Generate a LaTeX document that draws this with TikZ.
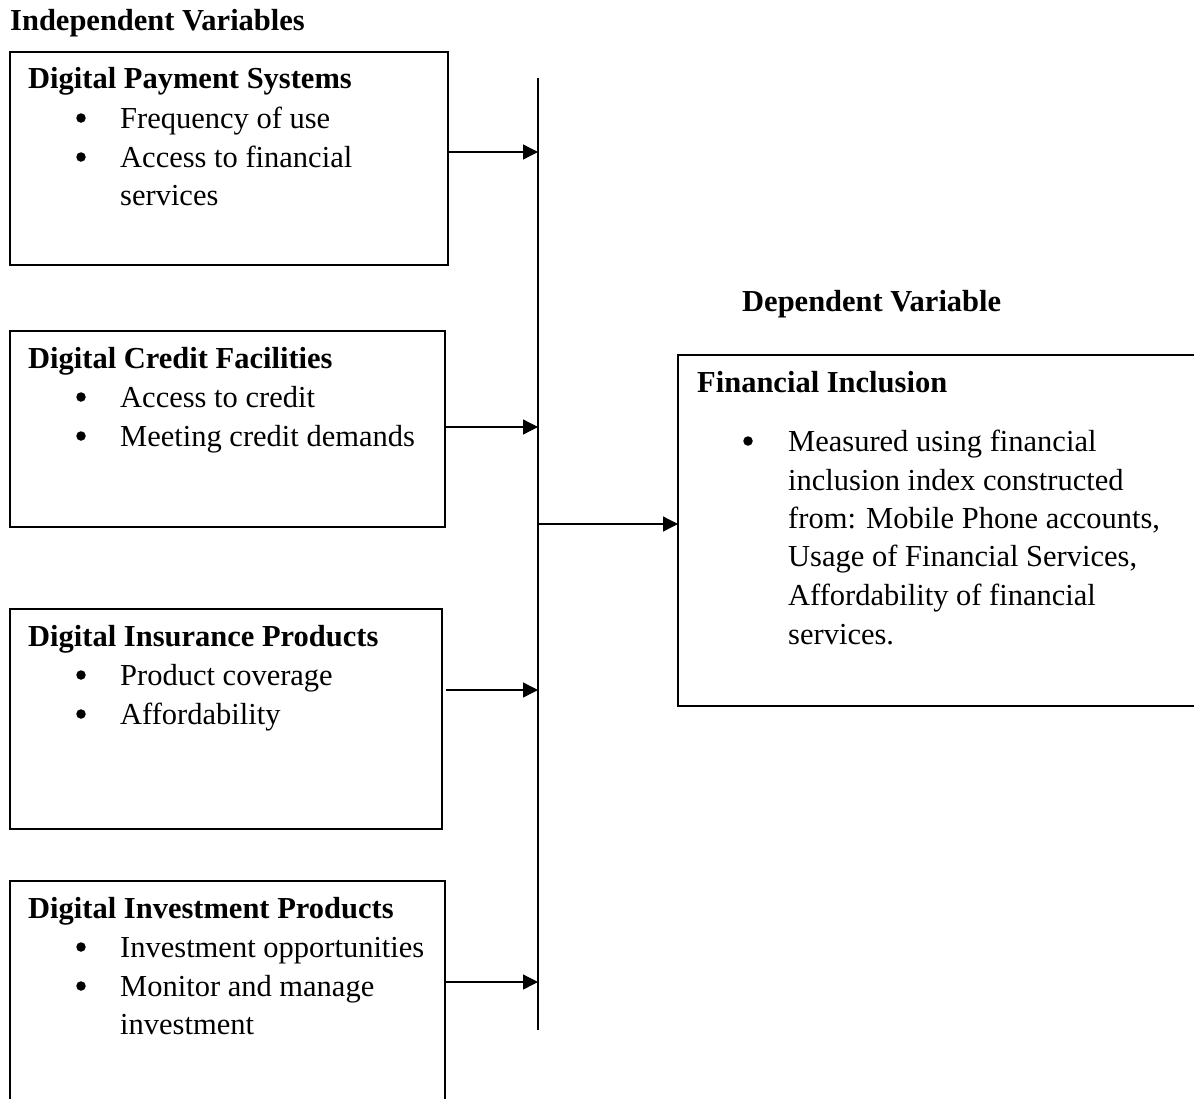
\documentclass[tikz,border=0pt]{standalone}
\usepackage{fontspec}
\setmainfont{Liberation Serif}
\usetikzlibrary{arrows.meta}
\begin{document}
\begin{tikzpicture}[x=1pt,y=-1pt,
  box/.style={draw, line width=1.3pt, anchor=north west, inner sep=0pt, outer sep=0pt},
  txt/.style={anchor=base west, inner sep=0pt, font=\fontsize{30.5}{39}\selectfont},
  head/.style={anchor=base west, inner sep=0pt, font=\fontsize{30.5}{39}\selectfont\bfseries},
  bul/.style={circle, fill=black, inner sep=0pt, minimum size=9.5pt},
  link/.style={line width=1.3pt},
  arr/.style={line width=1.3pt, -{Triangle[length=15pt,width=15pt]}}]
\useasboundingbox (0,0) rectangle (1194,1098);
\clip (0,0) rectangle (1194,1098);

% titles
\node[head] (tind) at (10,30) {Independent Variables};
\node[head] (tdep) at (742,311) {Dependent Variable};

% box 1
\node[box, minimum width=438pt, minimum height=213pt] (b1) at (10,52) {};
\node[head] (h1) at (28,88) {Digital Payment Systems};
\node[bul] (p1a) at (81,118) {};
\node[txt] (t1a) at (120,128) {Frequency of use};
\node[bul] (p1b) at (81,157) {};
\node[txt] (t1b) at (120,167) {Access to financial};
\node[txt] (t1c) at (120,205) {services};

% box 2
\node[box, minimum width=435pt, minimum height=196pt] (b2) at (10,331) {};
\node[head] (h2) at (28,368) {Digital Credit Facilities};
\node[bul] (p2a) at (81,397) {};
\node[txt] (t2a) at (120,407) {Access to credit};
\node[bul] (p2b) at (81,436) {};
\node[txt] (t2b) at (120,446) {Meeting credit demands};

% box 3
\node[box, minimum width=432pt, minimum height=220pt] (b3) at (10,609) {};
\node[head] (h3) at (28,646) {Digital Insurance Products};
\node[bul] (p3a) at (81,675) {};
\node[txt] (t3a) at (120,685) {Product coverage};
\node[bul] (p3b) at (81,714) {};
\node[txt] (t3b) at (120,724) {Affordability};

% box 4
\node[box, minimum width=435pt, minimum height=260pt] (b4) at (10,881) {};
\node[head] (h4) at (28,918) {Digital Investment Products};
\node[bul] (p4a) at (81,947) {};
\node[txt] (t4a) at (120,957) {Investment opportunities};
\node[bul] (p4b) at (81,986) {};
\node[txt] (t4b) at (120,996) {Monitor and manage};
\node[txt] (t4c) at (120,1034) {investment};

% dependent box
\node[box, minimum width=540pt, minimum height=351pt] (fi) at (678,355) {};
\node[head] (hf) at (697,392) {Financial Inclusion};
\node[bul] (pf) at (748,441) {};
\node[txt] (tf1) at (788,451) {Measured using financial};
\node[txt] (tf2) at (788,490) {inclusion index constructed};
\node[txt] (tf3) at (788,528) {from: Mobile Phone accounts,};
\node[txt] (tf4) at (788,566) {Usage of Financial Services,};
\node[txt] (tf5) at (788,605) {Affordability of financial};
\node[txt] (tf6) at (788,644) {services.};

% vertical collector line
\coordinate (vtop) at (538,78);
\coordinate (vbot) at (538,1030);
\coordinate (v1) at (538,152);
\coordinate (v2) at (538,427);
\coordinate (v3) at (538,690);
\coordinate (v4) at (538,982);
\coordinate (vm) at (538,524);
\draw[link] (vtop) -- (vbot);

\draw[arr] (b1.east |- v1) -- (v1);
\draw[arr] (b2.east |- v2) -- (v2);
\draw[arr] ([xshift=4pt]b3.east |- v3) -- (v3);
\draw[arr] (b4.east |- v4) -- (v4);
\draw[arr] (vm) -- (fi.west |- vm);
\end{tikzpicture}
\end{document}
